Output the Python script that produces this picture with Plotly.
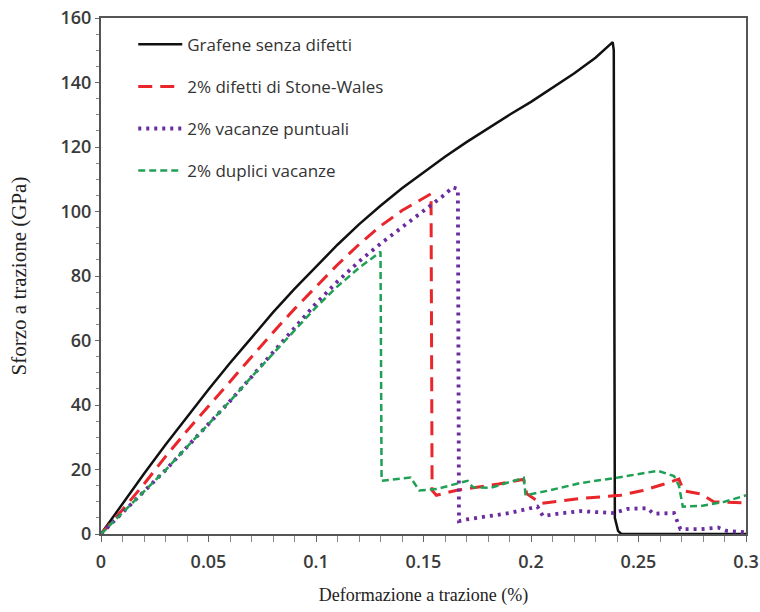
import plotly.graph_objects as go

# ---- data (strain, stress GPa) ----
names = ["Grafene senza difetti", "2% difetti di Stone-Wales",
         "2% vacanze puntuali", "2% duplici vacanze"]

x_pristine = [0, 0.01, 0.02, 0.03, 0.04, 0.05, 0.06, 0.07, 0.08, 0.09, 0.10,
              0.11, 0.12, 0.13, 0.14, 0.15, 0.16, 0.17, 0.18, 0.19, 0.20,
              0.21, 0.22, 0.23, 0.238, 0.2385, 0.239, 0.2405, 0.242, 0.27, 0.3]
y_pristine = [0, 9.5, 18.7, 27.7, 36.4, 44.8, 53, 61, 68.7, 76, 83,
              89.7, 96, 101.8, 107.2, 112.2, 117, 121.5, 125.8, 130, 134,
              138.3, 142.8, 147.7, 152.5, 150, 5, 1, 0, 0, 0]

x_sw = [0, 0.01, 0.02, 0.03, 0.04, 0.05, 0.06, 0.07, 0.08, 0.09, 0.10,
        0.11, 0.12, 0.13, 0.14, 0.15, 0.1535, 0.154, 0.156, 0.165, 0.175,
        0.185, 0.1966, 0.198, 0.2045, 0.215, 0.223, 0.2417, 0.252, 0.262,
        0.2688, 0.271, 0.279, 0.285, 0.3]
y_sw = [0, 7.5, 15.5, 24, 32, 39.7, 47.3, 55, 62.5, 69.8, 76.8,
        83.5, 89.8, 95.5, 100.3, 104, 105.5, 13.5, 12, 13.5, 14.5,
        15.5, 17, 12.5, 9.5, 10.3, 11, 12, 13.5, 15.5,
        17, 13.4, 12.4, 10, 9.6]

x_vac = [0, 0.01, 0.02, 0.03, 0.04, 0.05, 0.06, 0.07, 0.08, 0.09, 0.10,
         0.11, 0.12, 0.13, 0.14, 0.15, 0.16, 0.1635, 0.166, 0.1665, 0.17,
         0.18, 0.19, 0.203, 0.2055, 0.215, 0.223, 0.23, 0.2385, 0.245,
         0.254, 0.257, 0.2665, 0.268, 0.2695, 0.279, 0.287, 0.291, 0.3]
y_vac = [0, 6.5, 13, 19.8, 27, 34, 41.2, 48.7, 56.3, 64, 71.5,
         78.3, 84.5, 90, 95, 100, 105.3, 107.5, 107, 4, 4.5,
         5.5, 6.5, 8.5, 5.6, 6.5, 7.1, 6.8, 6.5, 7.8,
         8, 6.3, 6.5, 4, 1.5, 1.5, 2, 1, 0.5]

x_dv = [0, 0.01, 0.02, 0.03, 0.04, 0.05, 0.06, 0.07, 0.08, 0.09, 0.10,
        0.11, 0.12, 0.13, 0.1305, 0.144, 0.148, 0.1565, 0.165, 0.1705,
        0.173, 0.181, 0.1966, 0.1975, 0.2077, 0.2138, 0.223, 0.2394,
        0.259, 0.2665, 0.2688, 0.2706, 0.279, 0.29, 0.3]
y_dv = [0, 6.5, 13, 19.8, 27, 34, 41.2, 48.7, 56, 63.3, 70.3,
        76.8, 82.5, 87.5, 16.5, 17.5, 13.5, 14, 15.5, 16.5,
        14.5, 14.3, 17.4, 12, 13.4, 14.3, 15.8, 17.4,
        19.6, 18, 15, 8.5, 8.7, 10, 12]

x_ticks = [0, 0.05, 0.1, 0.15, 0.2, 0.25, 0.3]
x_tick_text = ["0", "0.05", "0.1", "0.15", "0.2", "0.25", "0.3"]
y_ticks = [0, 20, 40, 60, 80, 100, 120, 140, 160]

colors = ["#111111", "#e8262b", "#6a2c9f", "#1fa055"]
widths = [2.5, 3, 3.8, 2.5]
dashes = ["solid", "14px,8px", "3px,5px", "7px,4px"]

series = [(x_pristine, y_pristine), (x_sw, y_sw), (x_vac, y_vac), (x_dv, y_dv)]

fig = go.Figure()
for i, (xs, ys) in enumerate(series):
    fig.add_trace(go.Scatter(
        x=xs, y=ys, mode="lines", name=names[i], legendgroup=f"g{i}",
        line=dict(color=colors[i], width=widths[i], dash=dashes[i]),
    ))

tickfont = dict(family="Open Sans", size=18, color="#3a3a3a", weight=600)

fig.update_layout(
    width=760, height=612,
    margin=dict(l=101, r=14, t=18, b=78),
    paper_bgcolor="white", plot_bgcolor="white",
    showlegend=True,
    legend=dict(
        x=0.05, y=0.983, xanchor="left", yanchor="top",
        font=dict(family="Open Sans", size=17, color="#333333"),
        bgcolor="rgba(0,0,0,0)", borderwidth=0,
        tracegroupgap=17, itemwidth=44,
    ),
    xaxis=dict(
        range=[0, 0.3], tickvals=x_ticks, ticktext=x_tick_text,
        automargin=False,
        ticks="outside", ticklen=6, tickcolor="#666666", tickwidth=1,
        ticklabelstandoff=4,
        minor=dict(dtick=0.01, ticks="outside", ticklen=6, tickcolor="#888888"),
        showgrid=False, zeroline=False,
        showline=True, linecolor="#555555", linewidth=2, mirror=True,
        tickfont=tickfont,
        title=dict(text="Deformazione a trazione (%)",
                   font=dict(family="Liberation Serif", size=18, color="#222222"),
                   standoff=17),
    ),
    yaxis=dict(
        range=[0, 160], tickvals=y_ticks,
        automargin=False,
        ticks="outside", ticklen=4, tickcolor="#666666", tickwidth=1,
        minor=dict(dtick=5, ticks="outside", ticklen=3, tickcolor="#888888"),
        showgrid=False, zeroline=False,
        showline=True, linecolor="#555555", linewidth=2, mirror=True,
        tickfont=tickfont,
        title=dict(text="Sforzo a trazione (GPa)",
                   font=dict(family="Liberation Serif", size=21, color="#222222"),
                   standoff=28),
    ),
)

fig.write_html("out.html")
